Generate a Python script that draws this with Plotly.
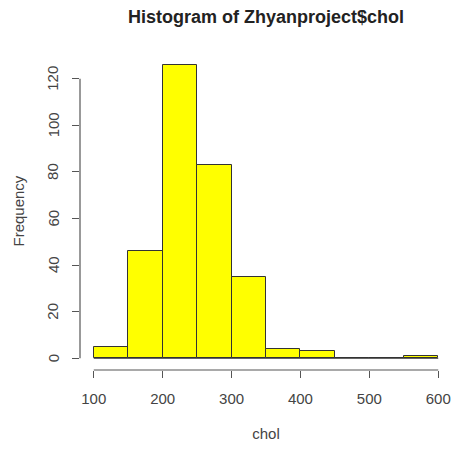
import plotly.graph_objects as go

bin_edges = [100, 150, 200, 250, 300, 350, 400, 450, 500, 550, 600]
counts = [5, 46, 126, 83, 35, 4, 3, 0, 0, 1]
x_ticks = [100, 200, 300, 400, 500, 600]
y_ticks = [0, 20, 40, 60, 80, 100, 120]

centers = [(a + b) / 2 for a, b in zip(bin_edges[:-1], bin_edges[1:])]
widths = [b - a for a, b in zip(bin_edges[:-1], bin_edges[1:])]

axis_col = "#555555"
label_col = "#444444"
font_fam = "Liberation Sans, Arial, sans-serif"

fig = go.Figure()
fig.add_trace(go.Scatter(x=[bin_edges[0], bin_edges[-1]], y=[0, 0], mode="lines",
                         line=dict(color="#333333", width=1), hoverinfo="skip", showlegend=False))
fig.add_trace(go.Bar(x=centers, y=counts, width=widths,
                     marker=dict(color="#FFFF00", line=dict(color="#333333", width=1)),
                     showlegend=False))

xr = [bin_edges[0] - 0.04 * (bin_edges[-1] - bin_edges[0]), bin_edges[-1] + 0.04 * (bin_edges[-1] - bin_edges[0])]
ymax = max(counts)
yr = [-0.04 * ymax, ymax * 1.04]

fig.update_layout(
    width=452, height=450,
    margin=dict(l=80, r=0, t=53, b=80, autoexpand=False),
    paper_bgcolor="white", plot_bgcolor="white",
    font=dict(family=font_fam, color="#333333"),
    title=dict(text="<b>Histogram of Zhyanproject$chol</b>", x=0.5, xref="paper",
               yref="container", y=0.962, yanchor="middle",
               font=dict(size=18, color="#222222", family=font_fam)),
    bargap=0,
)
fig.update_xaxes(range=xr, tickvals=x_ticks, ticks="outside", ticklen=7, tickcolor=axis_col,
                 showgrid=False, zeroline=False, showline=False, automargin=False,
                 tickfont=dict(size=15, color=label_col), ticklabelstandoff=8,
                 title=dict(text="chol", font=dict(size=15, color=label_col), standoff=22))
fig.update_yaxes(range=yr, tickvals=y_ticks, ticks="outside", ticklen=7, tickcolor=axis_col,
                 showgrid=False, zeroline=False, showline=False, automargin=False,
                 showticklabels=False)
for v in y_ticks:
    fig.add_annotation(x=0, xref="x domain", y=v, yref="y", text=str(v), showarrow=False,
                       textangle=-90, xanchor="center", yanchor="middle", xshift=-27,
                       font=dict(size=15, color=label_col, family=font_fam))
fig.add_annotation(x=0, xref="x domain", y=0.5, yref="y domain", text="Frequency", showarrow=False,
                   textangle=-90, xanchor="center", yanchor="middle", xshift=-62,
                   font=dict(size=15, color=label_col, family=font_fam))
fig.add_shape(type="line", xref="x", yref="y domain", x0=x_ticks[0], x1=x_ticks[-1], y0=0, y1=0,
              line=dict(color=axis_col, width=1.2))
fig.add_shape(type="line", xref="x domain", yref="y", x0=0, x1=0, y0=y_ticks[0], y1=y_ticks[-1],
              line=dict(color=axis_col, width=1.2))

fig.write_html("out.html", config={"displayModeBar": False},
               post_script="document.body.style.margin='0';document.body.style.overflow='hidden';")
